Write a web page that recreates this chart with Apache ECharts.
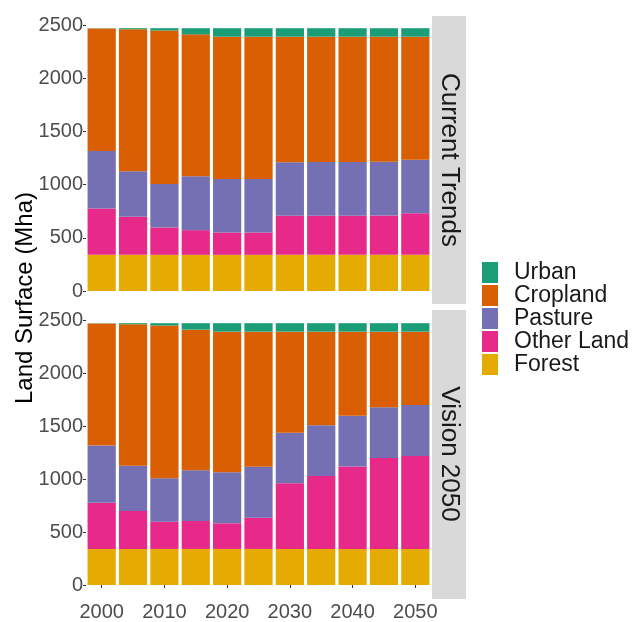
<!DOCTYPE html>
<html>
<head>
<meta charset="utf-8">
<script src="https://cdn.jsdelivr.net/npm/echarts@6/dist/echarts.min.js"></script>
<style>
  html, body { margin: 0; padding: 0; background: #fff; }
  #chart { width: 633px; height: 622px; }
</style>
</head>
<body>
<div id="chart"></div>
<script>
// years on the x axis
var years = ['2000', '2005', '2010', '2015', '2020', '2025', '2030', '2035', '2040', '2045', '2050'];

// Current Trends (Mha)
var ctForest    = [340, 340, 340, 340, 340, 340, 340, 340, 340, 340, 340];
var ctOtherLand = [435, 358, 257, 232, 210, 210, 367, 367, 367, 370, 390];
var ctPasture   = [540, 427, 409, 507, 503, 503, 503, 505, 505, 504, 503];
var ctCropland  = [1153, 1335, 1442, 1333, 1337, 1337, 1180, 1178, 1178, 1176, 1157];
var ctUrban     = [2, 10, 22, 58, 80, 80, 80, 80, 80, 80, 80];

// Vision 2050 (Mha)
var vForest    = [340, 340, 340, 340, 340, 340, 340, 340, 340, 340, 340];
var vOtherLand = [435, 358, 257, 264, 242, 295, 619, 688, 779, 858, 877];
var vPasture   = [540, 427, 409, 478, 481, 481, 478, 478, 478, 478, 481];
var vCropland  = [1153, 1335, 1442, 1327, 1327, 1274, 953, 884, 793, 714, 692];
var vUrban     = [2, 10, 22, 61, 80, 80, 80, 80, 80, 80, 80];

var landNames = ['Urban', 'Cropland', 'Pasture', 'Other Land', 'Forest'];
var landColors = {
    'Forest': '#E6AB02',
    'Other Land': '#E7298A',
    'Pasture': '#7570B3',
    'Cropland': '#D95F02',
    'Urban': '#1B9E77'
};

var FONT = '"Liberation Sans", Arial, sans-serif';

var myChart = echarts.init(document.getElementById('chart'));

// 一个面板的柱子(从下往上堆叠)
function panelSeries(idx, stackName, data) {
    var order = ['Forest', 'Other Land', 'Pasture', 'Cropland', 'Urban'];
    var out = [];
    for (var i = 0; i < order.length; i++) {
        out.push({
            name: order[i],
            type: 'bar',
            stack: stackName,
            xAxisIndex: idx,
            yAxisIndex: idx,
            barCategoryGap: '10%',
            itemStyle: { color: landColors[order[i]] },
            data: data[order[i]]
        });
    }
    return out;
}

function yAxisCfg(idx) {
    return {
        type: 'value',
        gridIndex: idx,
        min: 0,
        max: 2500,
        interval: 500,
        axisLine: { show: false },
        axisTick: { show: true, length: 3, lineStyle: { color: '#333' } },
        splitLine: { show: false },
        axisLabel: {
            color: '#4D4D4D', fontSize: 20, fontFamily: FONT, margin: 3,
            formatter: function (v) { return String(v); }
        }
    };
}

var option = {
    animation: false,
    backgroundColor: '#fff',
    grid: [
        { left: 86, width: 345, top: 25, height: 266 },
        { left: 86, width: 345, top: 320, height: 265 }
    ],
    legend: {
        data: landNames,
        orient: 'vertical',
        left: 482,
        top: 261,
        itemWidth: 16,
        itemHeight: 21,
        itemGap: 0,
        padding: 0,
        icon: 'rect',
        selectedMode: false,
        textStyle: {
            fontSize: 23,
            fontFamily: FONT,
            color: '#1a1a1a',
            lineHeight: 21,
            padding: [0, 0, 0, 11]
        }
    },
    xAxis: [
        {
            type: 'category',
            gridIndex: 0,
            data: years,
            axisLine: { show: false },
            axisTick: { show: false },
            axisLabel: { show: false }
        },
        {
            type: 'category',
            gridIndex: 1,
            data: years,
            offset: 14,
            axisLine: { show: false },
            axisTick: { show: true, length: 3, interval: 1, alignWithLabel: true, lineStyle: { color: '#333' } },
            axisLabel: { interval: 1, color: '#4D4D4D', fontSize: 20, fontFamily: FONT, margin: 3 }
        }
    ],
    yAxis: [yAxisCfg(0), yAxisCfg(1)],
    graphic: [
        // 面板标签
        { type: 'rect', left: 432, top: 16, shape: { width: 34, height: 288 }, style: { fill: '#D9D9D9' } },
        { type: 'rect', left: 432, top: 310, shape: { width: 34, height: 289 }, style: { fill: '#D9D9D9' } },
        {
            type: 'text', x: 449, y: 160, rotation: -Math.PI / 2,
            style: { text: 'Current Trends', fontSize: 26, fontFamily: FONT, fill: '#1a1a1a', align: 'center', verticalAlign: 'middle' }
        },
        {
            type: 'text', x: 449, y: 454, rotation: -Math.PI / 2,
            style: { text: 'Vision 2050', fontSize: 26, fontFamily: FONT, fill: '#1a1a1a', align: 'center', verticalAlign: 'middle' }
        },
        // y轴标题
        {
            type: 'text', x: 25, y: 298, rotation: Math.PI / 2,
            style: { text: 'Land Surface (Mha)', fontSize: 24, fontFamily: FONT, fill: '#000', align: 'center', verticalAlign: 'middle' }
        }
    ],
    series: panelSeries(0, 'ct', {
        'Forest': ctForest, 'Other Land': ctOtherLand, 'Pasture': ctPasture, 'Cropland': ctCropland, 'Urban': ctUrban
    }).concat(panelSeries(1, 'v', {
        'Forest': vForest, 'Other Land': vOtherLand, 'Pasture': vPasture, 'Cropland': vCropland, 'Urban': vUrban
    }))
};

myChart.setOption(option);
</script>
</body>
</html>
